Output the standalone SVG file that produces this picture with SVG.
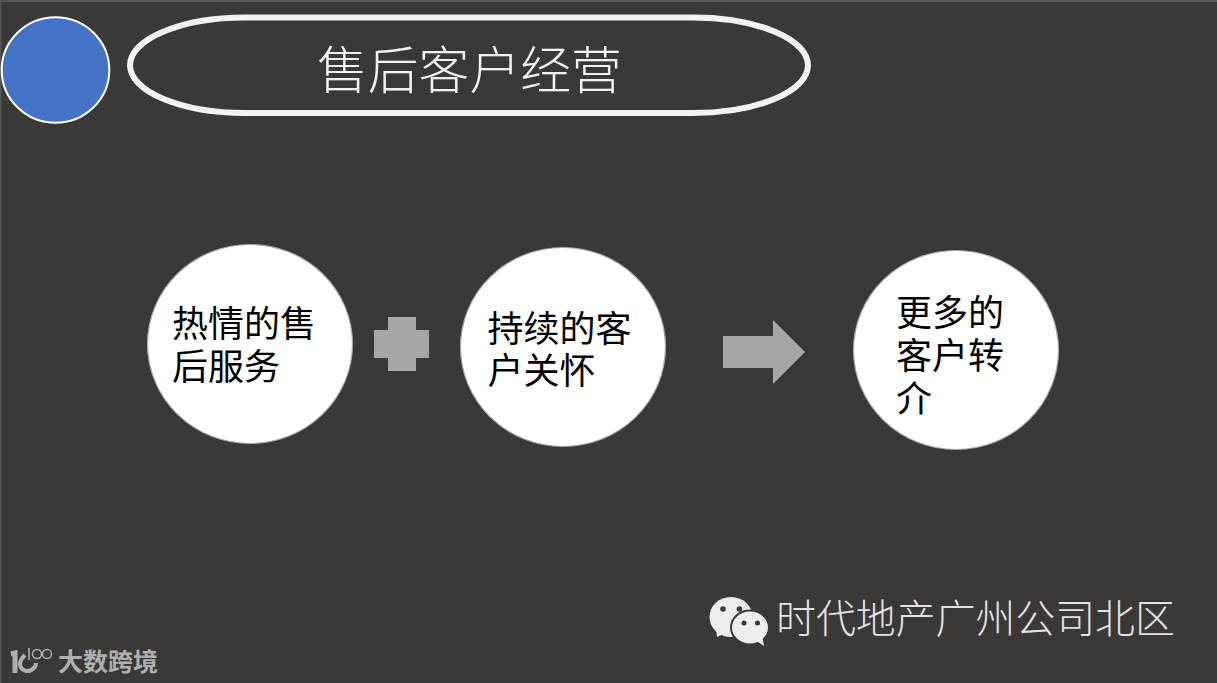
<svg xmlns="http://www.w3.org/2000/svg" width="1217" height="683" viewBox="0 0 1217 683">
<style>
text{font-family:"Noto Sans CJK SC","Noto Sans",sans-serif}
.c{fill:#fff;stroke:#a6a6a6;stroke-width:1.2}
.t{font-size:36px;fill:#000}
.s{fill:#a6a6a6}
.w{fill:#ededed}
.d{fill:#3a3938}
</style>
<rect width="1217" height="683" fill="#3a3938"/>
<rect width="1217" height="2" fill="#555"/>
<rect width="1.500" height="683" fill="#555"/>
<g id="badge"><ellipse cx="55.500" cy="70" rx="53.800" ry="52.800" fill="#4472c4" stroke="#fff" stroke-width="2"/></g>
<g id="title">
<rect x="130" y="17.500" width="678" height="95.500" rx="115" ry="47.750" fill="none" stroke="#f2f2f2" stroke-width="6"/>
<text x="317" y="89" font-size="50.800px" fill="#f2f2f2" font-weight="300">售后客户经营</text>
</g>
<g id="node1">
<ellipse class="c" cx="250" cy="344" rx="102.500" ry="99.500"/>
<text class="t" x="172" y="337">热情的售<tspan x="172" dy="43">后服务</tspan></text>
</g>
<g id="plus"><polygon class="s" points="388,317 416,317 416,330 429,330 429,358 416,358 416,371 388,371 388,358 374,358 374,330 388,330"/></g>
<g id="node2">
<ellipse class="c" cx="563" cy="347" rx="102.500" ry="99.500"/>
<text class="t" x="487.500" y="342">持续的客<tspan x="487.500" dy="42">户关怀</tspan></text>
</g>
<g id="connectors"><polygon class="s" points="723,336 773,336 773,320 805,352 773,384 773,368 723,368"/></g>
<g id="node3">
<ellipse class="c" cx="956" cy="350" rx="102.500" ry="99.500"/>
<text class="t" x="896" y="326">更多的<tspan x="896" dy="43">客户转</tspan><tspan x="896" dy="43">介</tspan></text>
</g>
<g id="wechat">
<ellipse class="w" cx="731" cy="617" rx="21.500" ry="20"/>
<polygon class="w" points="716,628 717,637 728,632"/>
<ellipse class="d" cx="750" cy="627.500" rx="20" ry="18"/>
<ellipse class="w" cx="750" cy="627.500" rx="18" ry="16"/>
<polygon class="w" points="755,640 764,646 762,635"/>
<circle class="d" cx="723" cy="609" r="2.800"/>
<circle class="d" cx="739.500" cy="609" r="2.800"/>
<circle class="d" cx="744" cy="623" r="2.500"/>
<circle class="d" cx="757.500" cy="623" r="2.500"/>
</g>
<g id="footer"><text x="776" y="633" font-size="39.900px" fill="#e2e2e2" font-weight="300">时代地产广州公司北区</text></g>
<g id="logo" fill="none" stroke="#b0b0b0">
<path d="M11 654l4-1v20" stroke-width="5"/>
<path d="M25 655c-3 3-5 6-5 9 0 6 8 10 14 4 1-1 2-3 2-5" stroke-width="4"/>
<path d="M29 648v12" stroke-width="1.500"/>
<circle cx="37" cy="654" r="4.500" stroke-width="1.500"/>
<circle cx="47" cy="654" r="4.500" stroke-width="1.500"/>
<text x="58" y="671" font-size="25px" fill="#b0b0b0" stroke="none" font-weight="700">大数跨境</text>
</g>
</svg>
